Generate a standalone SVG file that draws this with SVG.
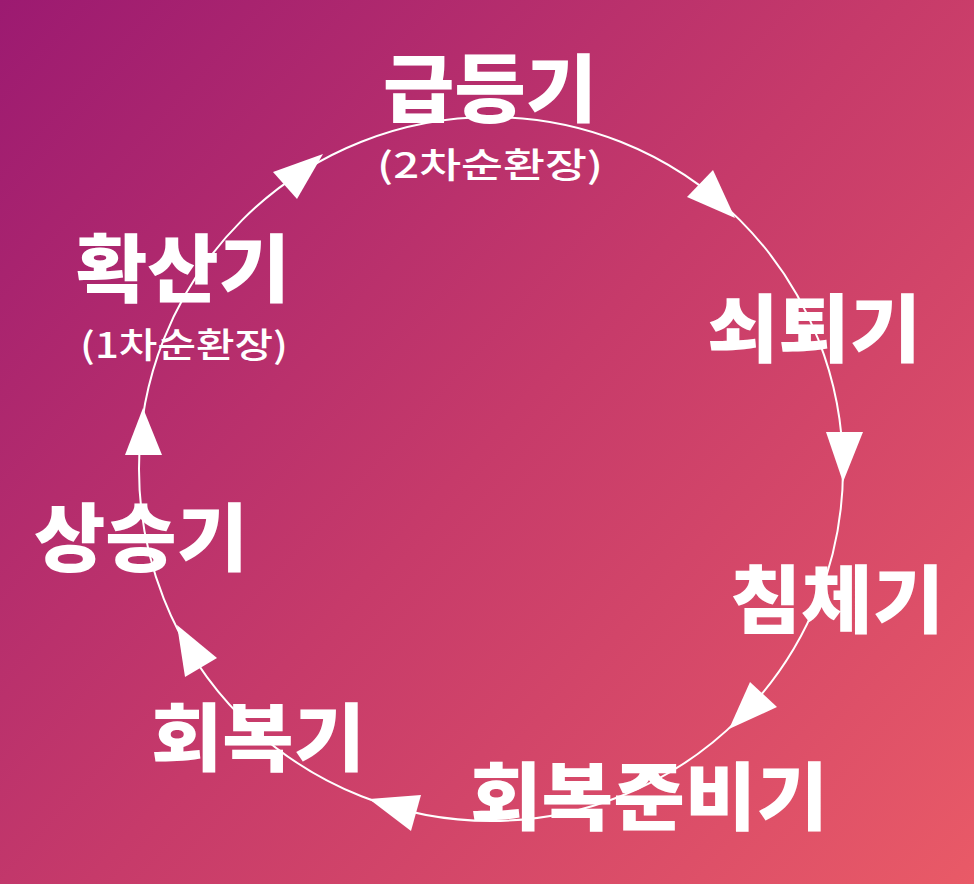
<svg xmlns="http://www.w3.org/2000/svg" width="974" height="884" viewBox="0 0 974 884">
  <defs>
    <linearGradient id="bg" x1="0" y1="0" x2="974" y2="884" gradientUnits="userSpaceOnUse">
      <stop offset="0" stop-color="#9c1a71"/>
      <stop offset="0.5" stop-color="#c63a6a"/>
      <stop offset="1" stop-color="#e95a67"/>
    </linearGradient>
  </defs>
  <style>
    .title { font-family: "Noto Sans CJK KR", "Noto Sans", sans-serif; font-weight: 900; font-size: 74px; fill: #ffffff; text-anchor: middle; }
    .sub { font-family: "Noto Sans CJK KR", "Noto Sans", sans-serif; font-weight: 500; font-size: 35px; fill: #ffffff; text-anchor: middle; }
    .ring { fill: none; stroke: #ffffff; stroke-width: 2; }
    .head { fill: #ffffff; stroke: none; }
  </style>
  <rect x="0" y="0" width="974" height="884" fill="url(#bg)"/>

  <g id="connectors">
    <circle class="ring" cx="491" cy="469" r="352"/>
    <polygon class="head" points="323,154 273,172 297,199"/>
    <polygon class="head" points="735,218 687,197 713,170"/>
    <polygon class="head" points="843,482 826,432 863,432"/>
    <polygon class="head" points="729,729 750,682 777,707"/>
    <polygon class="head" points="369,799 421,795 411,831"/>
    <polygon class="head" points="177,625 217,658 185,677"/>
    <polygon class="head" points="143,408 125,455 162,455"/>
  </g>

  <g id="node-geupdeung">
    <text class="title" x="490" y="116" textLength="214" lengthAdjust="spacingAndGlyphs">급등기</text>
    <text class="sub" x="490" y="178" textLength="226" lengthAdjust="spacingAndGlyphs">(2차순환장)</text>
  </g>
  <g id="node-soetoe">
    <text class="title" x="814" y="356" textLength="214" lengthAdjust="spacingAndGlyphs">쇠퇴기</text>
  </g>
  <g id="node-chimche">
    <text class="title" x="837" y="627" textLength="214" lengthAdjust="spacingAndGlyphs">침체기</text>
  </g>
  <g id="node-hoebokjunbi">
    <text class="title" x="649" y="824" textLength="358" lengthAdjust="spacingAndGlyphs">회복준비기</text>
  </g>
  <g id="node-hoebok">
    <text class="title" x="258" y="765" textLength="214" lengthAdjust="spacingAndGlyphs">회복기</text>
  </g>
  <g id="node-sangseung">
    <text class="title" x="141" y="565" textLength="214" lengthAdjust="spacingAndGlyphs">상승기</text>
  </g>
  <g id="node-hwaksan">
    <text class="title" x="183" y="296" textLength="214" lengthAdjust="spacingAndGlyphs">확산기</text>
    <text class="sub" x="184" y="358" textLength="208" lengthAdjust="spacingAndGlyphs">(1차순환장)</text>
  </g>
</svg>
